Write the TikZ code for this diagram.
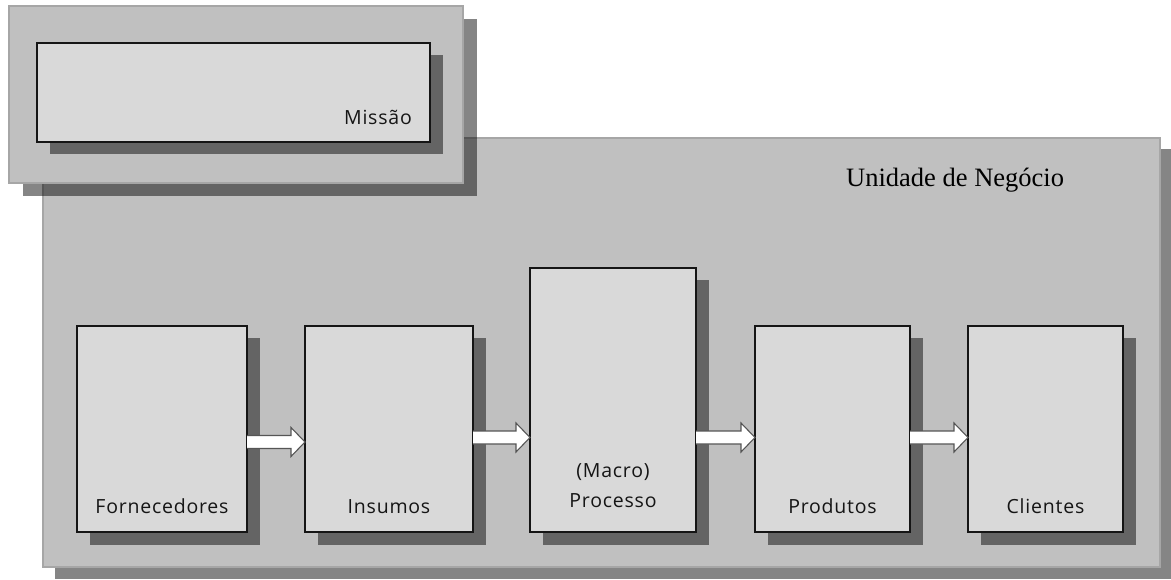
\documentclass[tikz,border=0pt]{standalone}
\usepackage{fontspec}
\setmainfont{Liberation Serif}
\newfontfamily\uifont{Open Sans}[LetterSpace=4.0]
\usetikzlibrary{shadows}

\definecolor{framefill}{HTML}{C0C0C0}
\definecolor{frameedge}{HTML}{A6A6A6}
\definecolor{boxfill}{HTML}{D9D9D9}
\definecolor{inktext}{HTML}{151515}
\definecolor{arrowedge}{HTML}{555555}

\tikzset{
  frame/.style={rectangle, fill=framefill, draw=frameedge, line width=2pt,
    inner sep=0pt, outer sep=0pt},
  framshadow/.style={drop shadow={shadow xshift=#1, shadow yshift=-#1,
    opacity=0.48, fill=black}},
  stepbox/.style={rectangle, fill=boxfill, draw=inktext, line width=1.3pt,
    inner sep=0pt, outer sep=0pt,
    drop shadow={shadow xshift=13pt, shadow yshift=-12.5pt, opacity=0.48, fill=black}},
  boxtext/.style={inner sep=0pt, text=inktext, font=\uifont\fontsize{19.5}{30}\selectfont,
    align=center},
  flowarr/.style={fill=white, draw=arrowedge, line width=1.1pt, line join=miter},
}

% block arrow from node #1 to node #2 with its axis at height #3
\newcommand\flowarrow[3]{%
  \coordinate (#1-out) at (#1.east |- 0,#3);
  \coordinate (#2-in) at (#2.west |- 0,#3);
  \draw[flowarr] ([yshift=6.5pt]#1-out) -- ([xshift=-14pt,yshift=6.5pt]#2-in)
    -- ([xshift=-14pt,yshift=14.5pt]#2-in) -- (#2-in)
    -- ([xshift=-14pt,yshift=-14.5pt]#2-in) -- ([xshift=-14pt,yshift=-6.5pt]#2-in)
    -- ([yshift=-6.5pt]#1-out);
}

\begin{document}
\begin{tikzpicture}[x=1pt, y=-1pt]
  \fill[white] (0,0) rectangle (1171,580);
  \useasboundingbox (0,0) rectangle (1171,580);

  % business unit frame
  \node[frame, framshadow=11.5pt, minimum width=1117pt, minimum height=429pt]
    (unit) at (601.5,352.5) {};
  \node[anchor=base west, inner sep=0pt, text=black, font=\fontsize{26.5}{30}\selectfont]
    (unit-title) at (846,186.5) {Unidade de Negócio};

  % mission frame
  \node[frame, framshadow=13.5pt, minimum width=454pt, minimum height=177pt]
    (mframe) at (236,94.5) {};
  \node[stepbox, minimum width=393pt, minimum height=99pt] (mission) at (233.5,92.5) {};
  \node[boxtext, anchor=base east] (mission-t) at ([xshift=-18pt,yshift=17pt]mission.south east) {Missão};

  % process chain
  \node[stepbox, minimum width=170pt, minimum height=206pt] (forn) at (162,429) {};
  \node[stepbox, minimum width=168pt, minimum height=206pt] (insu) at (389,429) {};
  \node[stepbox, minimum width=166pt, minimum height=264pt] (macro) at (613,400) {};
  \node[stepbox, minimum width=155pt, minimum height=206pt] (prod) at (832.5,429) {};
  \node[stepbox, minimum width=155pt, minimum height=206pt] (cli) at (1045.5,429) {};

  \node[boxtext, anchor=base] (forn-t) at ([yshift=19pt]forn.south) {Fornecedores};
  \node[boxtext, anchor=base] (insu-t) at ([yshift=19pt]insu.south) {Insumos};
  \node[boxtext, anchor=base] (macro-t) at ([yshift=25pt]macro.south) {(Macro)\\Processo};
  \node[boxtext, anchor=base] (prod-t) at ([yshift=19pt]prod.south) {Produtos};
  \node[boxtext, anchor=base] (cli-t) at ([yshift=19pt]cli.south) {Clientes};

  \flowarrow{forn}{insu}{442}
  \flowarrow{insu}{macro}{437.5}
  \flowarrow{macro}{prod}{437.5}
  \flowarrow{prod}{cli}{437.5}
\end{tikzpicture}
\end{document}
